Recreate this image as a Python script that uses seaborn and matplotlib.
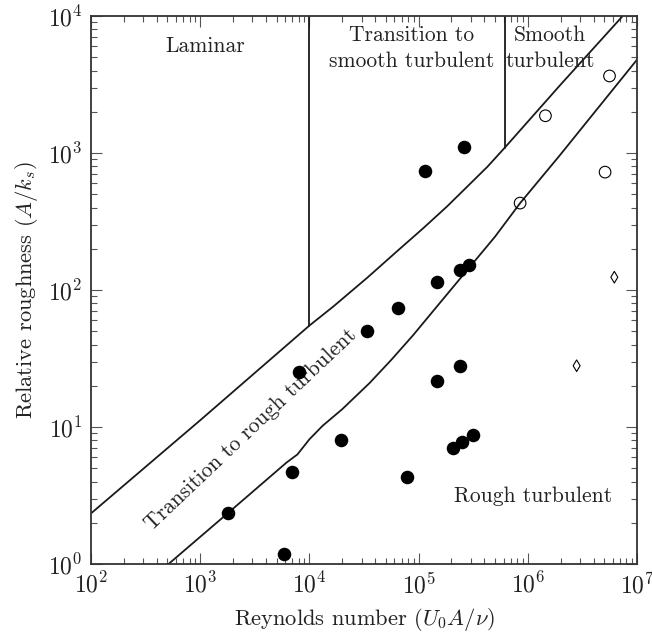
import numpy as np
import pandas as pd
import matplotlib
matplotlib.use("Agg")
import matplotlib.pyplot as plt
import seaborn as sns

# ---- data ----
upper_x = [1e2, 1e3, 1e4, 1.66e4, 3.39e4, 6.31e4, 1.10e5, 1.82e5, 2.75e5, 4.27e5, 6.17e5, 2.0e6, 7.4e6]
upper_y = [2.34, 11.2, 55, 75.9, 123, 191, 282, 407, 562, 794, 1096, 3160, 1e4]

lower_x = [513, 1780, 6170, 7760, 1.0e4, 1.32e4, 2.0e4, 3.55e4, 5.62e4, 8.91e4, 1.66e5,
           2.75e5, 5.01e5, 8.51e5, 1.95e6, 1.07e7]
lower_y = [1.0, 2.34, 5.5, 6.3, 8.13, 10.2, 13.5, 20.9, 30.9, 46.8, 85.1,
           138, 245, 431, 955, 5130]

vline1_x = [1e4, 1e4]
vline1_y = [55, 1e4]
vline2_x = [6.17e5, 6.17e5]
vline2_y = [1096, 1e4]

filled_x = [1780, 5900, 6900, 8100, 19500, 34000, 65000, 78000, 115000, 148000,
            148000, 205000, 240000, 250000, 240000, 260000, 290000, 317000]
filled_y = [2.36, 1.18, 4.7, 25, 8.0, 50, 74, 4.3, 740, 21.7,
            114, 7.0, 27.9, 7.8, 140, 1100, 152, 8.8]

open_x = [8.5e5, 1.45e6, 5.1e6, 5.6e6]
open_y = [431, 1870, 725, 3650]

diamond_x = [2.8e6, 6.2e6]
diamond_y = [28, 124]

x_ticks = [1e2, 1e3, 1e4, 1e5, 1e6, 1e7]
y_ticks = [1e0, 1e1, 1e2, 1e3, 1e4]

# ---- style ----
sns.set_theme(style="ticks")
plt.rcParams["font.family"] = ["cmr10", "DejaVu Serif"]
plt.rcParams["mathtext.fontset"] = "cm"
plt.rcParams["axes.formatter.use_mathtext"] = True

fig = plt.figure(figsize=(6.52, 6.35), dpi=100)
ax = fig.add_axes([91 / 652, 1 - 564 / 635, (637 - 91) / 652, (564 - 16) / 635])

lc = "#1a1a1a"
lw = 1.3

def draw_line(xs, ys):
    df = pd.DataFrame({"x": xs, "y": ys})
    sns.lineplot(data=df, x="x", y="y", ax=ax, color=lc, linewidth=lw,
                 estimator=None, sort=False, legend=False,
                 solid_joinstyle="round")

draw_line(upper_x, upper_y)
draw_line(lower_x, lower_y)
draw_line(vline1_x, vline1_y)
draw_line(vline2_x, vline2_y)

sns.scatterplot(x=filled_x, y=filled_y, ax=ax, color="black", s=95,
                edgecolor="black", linewidth=0, marker="o", zorder=5)
sns.scatterplot(x=open_x, y=open_y, ax=ax, s=70, marker="o",
                facecolor="none", edgecolor="black", linewidth=0.8, zorder=5)
sns.scatterplot(x=diamond_x, y=diamond_y, ax=ax, s=35, marker="d",
                facecolor="none", edgecolor="black", linewidth=0.8, zorder=5)

ax.set_xscale("log")
ax.set_yscale("log")
ax.set_xlim(1e2, 1e7)
ax.set_ylim(1e0, 1e4)
ax.set_xticks(x_ticks)
ax.set_yticks(y_ticks)

ax.tick_params(which="both", direction="in", top=True, right=True, color="#555555")
ax.tick_params(which="major", length=8, width=0.8, labelsize=17, pad=6, labelcolor="#222222")
ax.tick_params(which="minor", length=4.5, width=0.8)
for s in ax.spines.values():
    s.set_linewidth(1.3)
    s.set_color("#333333")

ax.set_xlabel(r"Reynolds number ($U_0A/\nu$)", fontsize=16.2, color="#222222", labelpad=6)
ax.set_ylabel(r"Relative roughness ($A/k_s$)", fontsize=16.2, color="#222222", labelpad=6)

tkw = dict(fontsize=15.5, color="#222222", ha="center", va="center", linespacing=1.45)
ax.text(1100, 6000, "Laminar", **tkw)
ax.text(8.7e4, 5800, "Transition to\nsmooth turbulent", **tkw)
ax.text(1.6e6, 5800, "Smooth\nturbulent", **tkw)
ax.text(1.12e6, 3.1, "Rough turbulent", **tkw)
ax.text(2900, 9.6, "Transition to rough turbulent", rotation=43.5,
        rotation_mode="anchor", **tkw)

fig.savefig("out.png", dpi=100)
